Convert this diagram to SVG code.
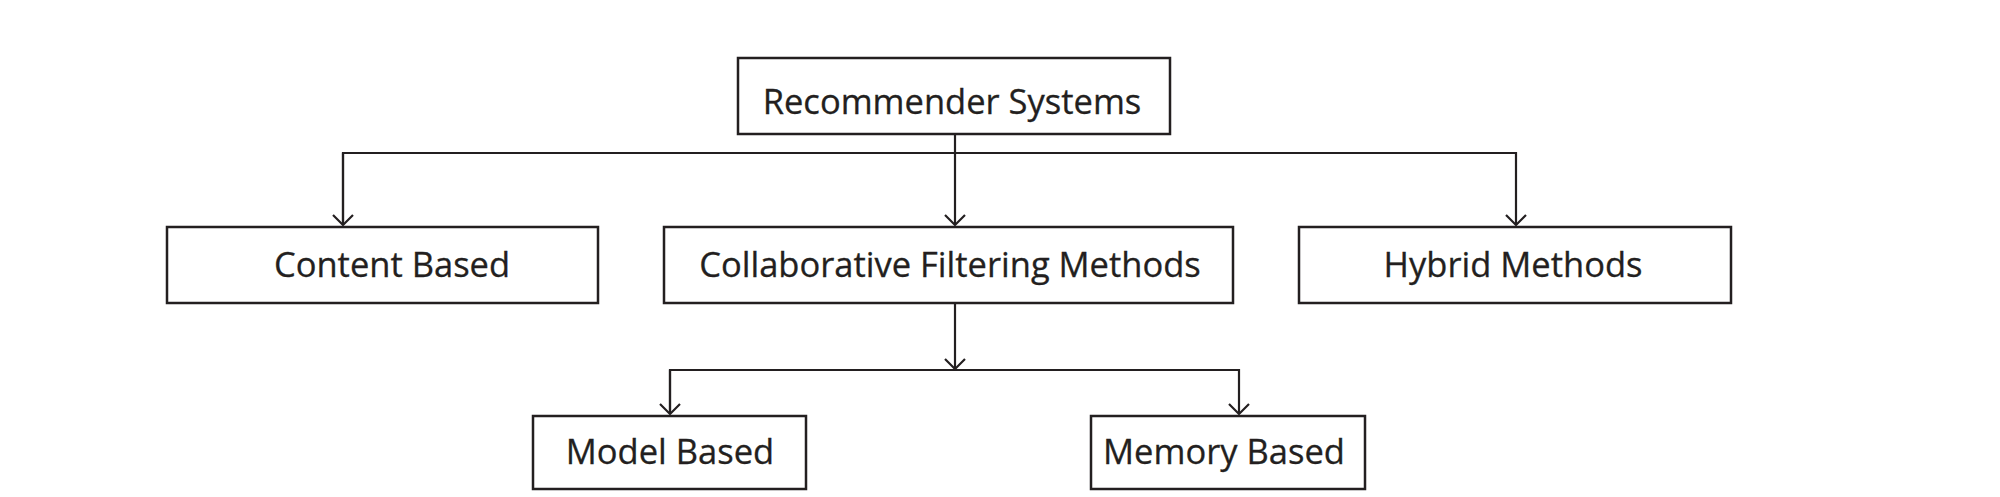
<svg xmlns="http://www.w3.org/2000/svg" width="2000" height="497" viewBox="0 0 2000 497">
<style>
.box{fill:#fff;stroke:#231f20;stroke-width:2.5}
.lbl{font-family:"Open Sans","Liberation Sans",sans-serif;font-size:34.5px;fill:#231f20;stroke:#231f20;stroke-width:0.3;text-anchor:middle}
.con{fill:none;stroke:#231f20;stroke-width:2.2}
</style>
<defs>
<marker id="arr" markerWidth="24" markerHeight="24" refX="12" refY="12" markerUnits="userSpaceOnUse" orient="auto">
<path d="M2,2 L12,12 L2,22" fill="none" stroke="#231f20" stroke-width="2.2"/>
</marker>
</defs>
<rect width="2000" height="497" fill="#fff"/>
<g id="connectors">
<line class="con" x1="955" y1="134" x2="955" y2="225" marker-end="url(#arr)"/>
<polyline class="con" points="343,225 343,153 1516,153 1516,225" marker-end="url(#arr)"/>
<line class="con" x1="343" y1="153" x2="343" y2="225" marker-end="url(#arr)"/>
<line class="con" x1="955" y1="303" x2="955" y2="369" marker-end="url(#arr)"/>
<polyline class="con" points="670,414 670,370 1239,370 1239,414" marker-end="url(#arr)"/>
<line class="con" x1="670" y1="370" x2="670" y2="414" marker-end="url(#arr)"/>
</g>
<g id="root"><rect class="box" x="738" y="58" width="432" height="76"/><text class="lbl" x="952" y="114">Recommender Systems</text></g>
<g id="content"><rect class="box" x="167" y="227" width="431" height="76"/><text class="lbl" x="392" y="277">Content Based</text></g>
<g id="collab"><rect class="box" x="664" y="227" width="569" height="76"/><text class="lbl" x="950" y="277">Collaborative Filtering Methods</text></g>
<g id="hybrid"><rect class="box" x="1299" y="227" width="432" height="76"/><text class="lbl" x="1513" y="277">Hybrid Methods</text></g>
<g id="model"><rect class="box" x="533" y="416" width="273" height="73"/><text class="lbl" x="670" y="464">Model Based</text></g>
<g id="memory"><rect class="box" x="1091" y="416" width="274" height="73"/><text class="lbl" x="1224" y="464">Memory Based</text></g>
</svg>
